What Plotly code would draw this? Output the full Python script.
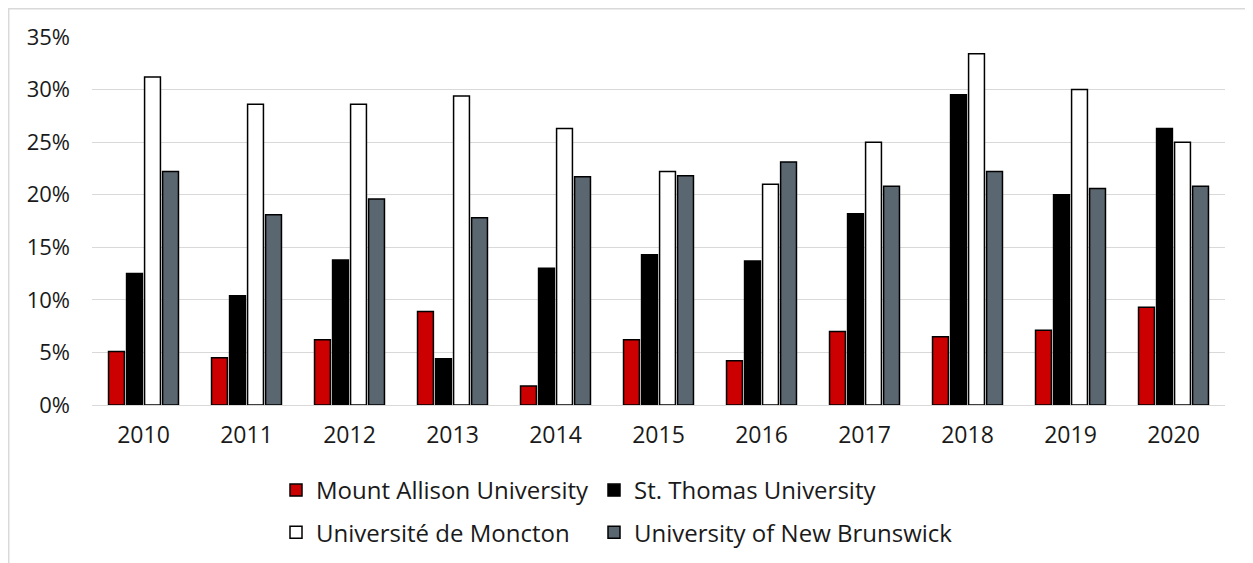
import plotly.graph_objects as go

years = ["2010", "2011", "2012", "2013", "2014", "2015", "2016", "2017", "2018", "2019", "2020"]
mount_allison = [0.051, 0.045, 0.062, 0.089, 0.018, 0.062, 0.042, 0.070, 0.065, 0.071, 0.093]
st_thomas = [0.125, 0.104, 0.138, 0.044, 0.130, 0.143, 0.137, 0.182, 0.295, 0.200, 0.263]
moncton = [0.312, 0.286, 0.286, 0.294, 0.263, 0.222, 0.210, 0.250, 0.334, 0.300, 0.250]
unb = [0.222, 0.181, 0.196, 0.178, 0.217, 0.218, 0.231, 0.208, 0.222, 0.206, 0.208]

series = [
    ("Mount Allison University", mount_allison, "#CC0000", "legend"),
    ("St. Thomas University", st_thomas, "#000000", "legend2"),
    ("Université de Moncton", moncton, "#FFFFFF", "legend"),
    ("University of New Brunswick", unb, "#5B6770", "legend2"),
]

FONT = "Open Sans"
fig = go.Figure()
for i, (name, vals, color, lg) in enumerate(series):
    fig.add_trace(go.Bar(
        x=years, y=vals, name=name, legend=lg, legendgroup=f"g{i}",
        marker=dict(color=color, line=dict(color="#000000", width=1.5)),
    ))

# page has an 8px body margin; figure coordinates are page - 8
W, H = 1237, 555
L, R, T, B = 84, 20, 29, 158
pw, ph = W - L - R, H - T - B

def px_x(p):
    return (p - L) / pw

def px_y(p):
    return (H - B - p) / ph

fig.update_layout(
    width=W, height=H,
    margin=dict(l=L, r=R, t=T, b=B, autoexpand=False),
    paper_bgcolor="white", plot_bgcolor="white",
    barmode="group", bargap=0.30, bargroupgap=0.12,
    font=dict(family=FONT, size=22, color="#1A1A1A"),
    xaxis=dict(showgrid=False, showline=False, ticks="", ticklabelstandoff=14,
               tickfont=dict(size=23)),
    yaxis=dict(range=[0, 0.35], dtick=0.05, tickformat=".0%", showgrid=True,
               gridcolor="#D9D9D9", gridwidth=1.3, zeroline=True,
               zerolinecolor="#D9D9D9", zerolinewidth=1.3, showline=False,
               ticks="", ticklabelstandoff=21, tickfont=dict(size=22)),
    legend=dict(orientation="v", x=px_x(268), xanchor="left", y=px_y(460),
                yanchor="top", tracegroupgap=8, font=dict(size=24),
                bgcolor="rgba(0,0,0,0)", itemwidth=30),
    legend2=dict(orientation="v", x=px_x(586), xanchor="left", y=px_y(460),
                 yanchor="top", tracegroupgap=8, font=dict(size=24),
                 bgcolor="rgba(0,0,0,0)", itemwidth=30),
    shapes=[
        dict(type="line", xref="paper", yref="paper", x0=px_x(0.7), x1=px_x(0.7),
             y0=px_y(0.7), y1=px_y(H + 5), line=dict(color="#D9D9D9", width=1.5)),
        dict(type="line", xref="paper", yref="paper", x0=px_x(0), x1=px_x(W + 5),
             y0=px_y(0.7), y1=px_y(0.7), line=dict(color="#D9D9D9", width=1.5)),
    ],
)

fig.write_html("out.html")
